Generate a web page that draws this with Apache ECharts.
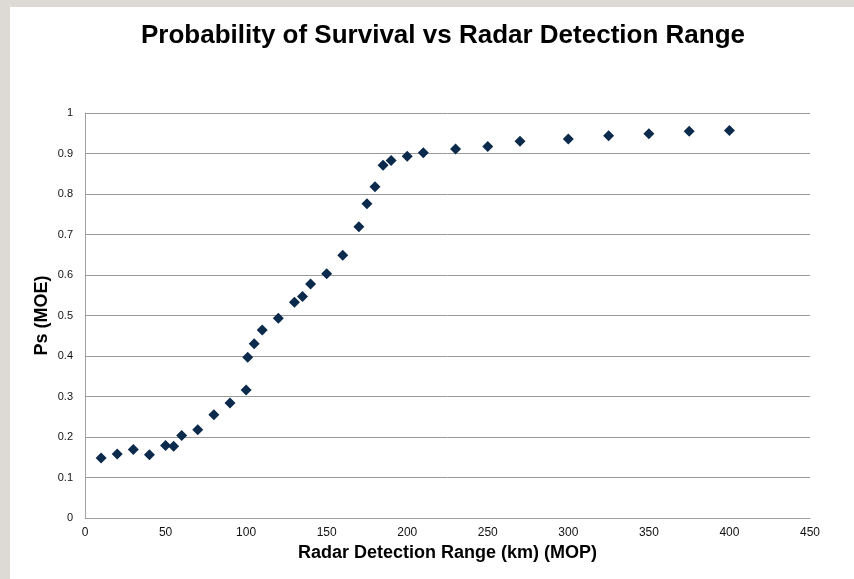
<!DOCTYPE html>
<html>
<head>
<meta charset="utf-8">
<script src="https://cdn.jsdelivr.net/npm/echarts@6/dist/echarts.min.js"></script>
<style>
  html, body { margin: 0; padding: 0; background: #dddad5; }
  #chart { width: 854px; height: 579px; }
</style>
</head>
<body>
<div id="chart"></div>
<script>
// Radar detection range (km) and the resulting probability of survival
const rangeKm = [10, 20, 30, 40, 50, 55, 60, 70, 80, 90, 100, 101, 105, 110, 120, 130, 135, 140, 150, 160, 170, 175, 180, 185, 190, 200, 210, 230, 250, 270, 300, 325, 350, 375, 400];
const survival = [0.148, 0.158, 0.169, 0.156, 0.179, 0.177, 0.204, 0.218, 0.255, 0.284, 0.316, 0.397, 0.430, 0.464, 0.493, 0.533, 0.547, 0.578, 0.603, 0.649, 0.719, 0.776, 0.818, 0.871, 0.883, 0.893, 0.902, 0.911, 0.917, 0.930, 0.936, 0.944, 0.949, 0.955, 0.957];

const xTicks = { min: 0, max: 450, step: 50 };
const yTicks = { min: 0, max: 1, step: 0.1 };

const points = rangeKm.map((r, i) => [r, survival[i]]);

const FONT = 'Liberation Sans, Arial, sans-serif';

const chart = echarts.init(document.getElementById('chart'));
chart.setOption({
  backgroundColor: '#dddad5',
  animation: false,
  graphic: [{
    type: 'rect',
    z: -10,
    shape: { x: 10, y: 7, width: 844, height: 572 },
    style: { fill: '#ffffff' }
  }],
  title: {
    text: 'Probability of Survival vs Radar Detection Range',
    left: 438,
    top: 18,
    textAlign: 'center',
    textStyle: { fontFamily: FONT, fontSize: 26, fontWeight: 'bold', color: '#000' }
  },
  grid: { left: 85, right: 44, top: 113, bottom: 61 },
  xAxis: {
    type: 'value',
    min: xTicks.min, max: xTicks.max, interval: xTicks.step,
    name: 'Radar Detection Range (km) (MOP)',
    nameLocation: 'middle',
    nameGap: 26,
    nameMoveOverlap: false,
    nameTextStyle: { fontFamily: FONT, fontSize: 18, fontWeight: 'bold', color: '#000' },
    axisLine: { show: true, lineStyle: { color: '#a0a0a0', width: 1 } },
    axisTick: { show: false },
    splitLine: { show: false },
    axisLabel: { fontFamily: FONT, fontSize: 12, color: '#111', margin: 9 }
  },
  yAxis: {
    type: 'value',
    min: yTicks.min, max: yTicks.max, interval: yTicks.step,
    name: 'Ps (MOE)',
    nameLocation: 'middle',
    nameGap: 34,
    nameMoveOverlap: false,
    nameRotate: 90,
    nameTextStyle: { fontFamily: FONT, fontSize: 18, fontWeight: 'bold', color: '#000' },
    axisLine: { show: true, lineStyle: { color: '#a0a0a0', width: 1 } },
    axisTick: { show: false },
    splitLine: { show: true, lineStyle: { color: '#9a9a9a', width: 1 } },
    axisLabel: { fontFamily: FONT, fontSize: 11, color: '#111', margin: 12 }
  },
  series: [{
    type: 'scatter',
    data: points,
    symbol: 'diamond',
    symbolSize: [11, 11],
    itemStyle: { color: '#0b2a4c', opacity: 1 }
  }]
});
</script>
</body>
</html>
